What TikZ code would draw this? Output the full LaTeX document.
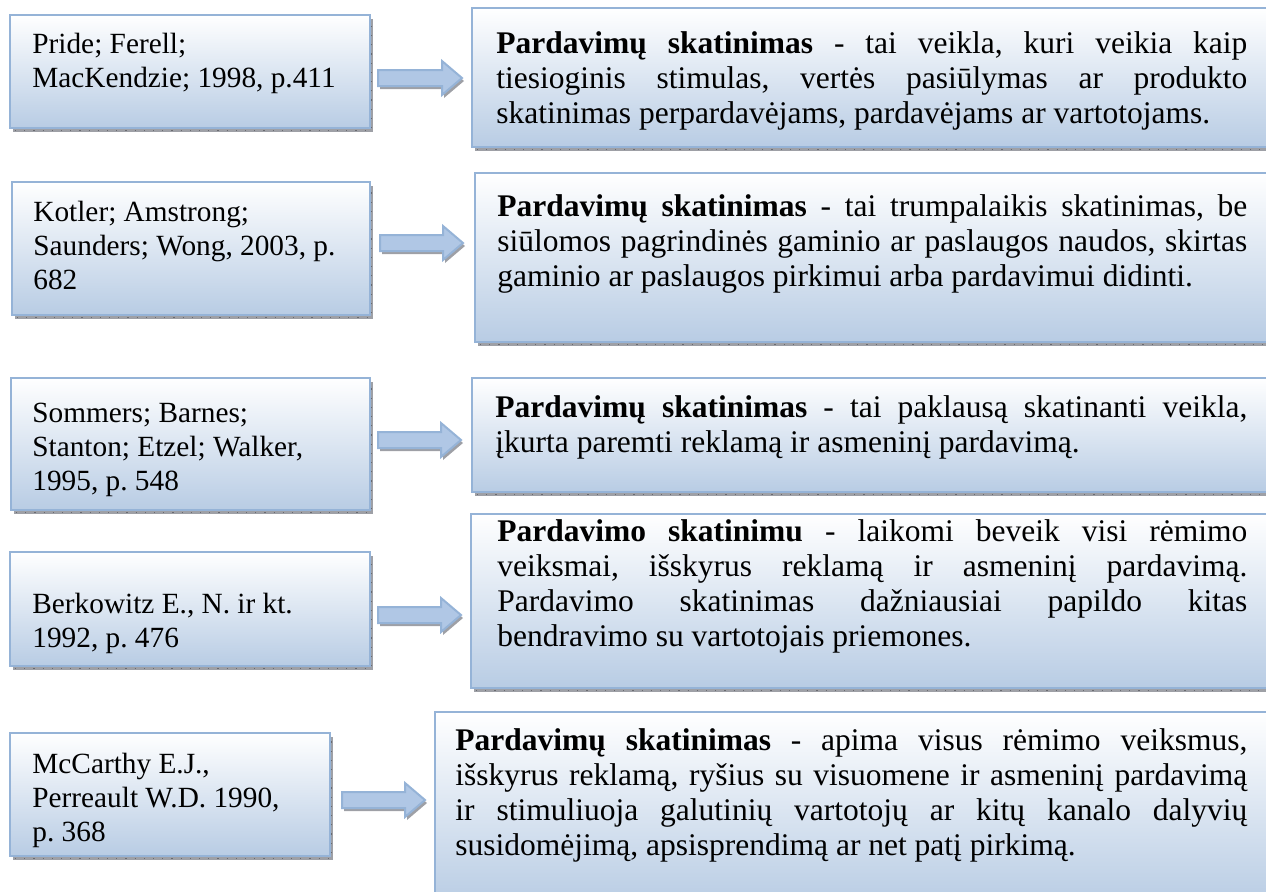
\documentclass[tikz,border=0pt]{standalone}
\usepackage{fontspec}
\setmainfont{Liberation Serif}
\usetikzlibrary{calc,fit}
\frenchspacing

\definecolor{edgeblue}{RGB}{149,179,215}
\definecolor{fillblue}{RGB}{184,204,228}
\definecolor{arrowblue}{RGB}{176,199,229}
\definecolor{shadowgrey}{RGB}{158,160,166}
\definecolor{tickgrey}{RGB}{105,106,112}

\tikzset{
  panel/.style={inner sep=0pt, outer sep=0pt, draw=edgeblue, line width=1.3pt,
    top color=white, bottom color=fillblue},
  shadowband/.style={fill=shadowgrey},
  ticks/.style={draw=tickgrey, line width=0.6pt, dash pattern=on 0.6pt off 4pt},
  arrowbody/.style={draw=edgeblue, line width=1pt, top color=arrowblue,
    middle color=white, bottom color=arrowblue},
  srctext/.style={inner sep=0pt, anchor=base west, font=\fontsize{14.65pt}{17pt}\selectfont},
  deftext/.style={inner sep=0pt, anchor=base west, font=\fontsize{15.75pt}{17.5pt}\selectfont},
}

% justified line and natural line inside a \vtop
\newcommand\jl[1]{\hbox to \hsize{#1}}
\newcommand\nl[1]{\hbox{#1}}

% framed, shaded panel with a hatched drop shadow: name, x0, y0, x1, y1
\newcommand\panelbox[5]{%
  \fill[shadowband] (#2+3,#3+4) rectangle (#4+3,#5+4);
  \draw[ticks] (#2+5,#5+2.5) -- (#4+1.5,#5+2.5) -- (#4+1.5,#3+7);
  \node[panel, fit={(#2,#3) (#4,#5)}] (#1) {};
}

% block arrow from tail coordinate to tip coordinate
\newcommand\blockarrow[2]{%
  \fill[shadowband]
    ($(#1)+(2,-5)$) -- ($(#2)+(-18,-5)$) -- ($(#2)+(-18,-14)$) -- ($(#2)+(2,3)$)
    -- ($(#2)+(-18,20)$) -- ($(#2)+(-18,11)$) -- ($(#1)+(2,11)$) -- cycle;
  \path[arrowbody]
    ($(#1)+(0,-8)$) -- ($(#2)+(-20,-8)$) -- ($(#2)+(-20,-17)$) -- (#2)
    -- ($(#2)+(-20,17)$) -- ($(#2)+(-20,8)$) -- ($(#1)+(0,8)$) -- cycle;
}

\begin{document}
\begin{tikzpicture}[x=0.5pt, y=-0.5pt]
\useasboundingbox (0,0) rectangle (1266,891);
\clip (0,0) rectangle (1266,891);

% source panels (left column)
\panelbox{l1}{10}{15}{370}{128}
\panelbox{l2}{12}{182}{370}{315}
\panelbox{l3}{11}{378}{370}{510}
\panelbox{l4}{10}{552}{370}{666}
\panelbox{l5}{10}{733}{330}{856}

% definition panels (right column)
\panelbox{r1}{472}{8}{1280}{147}
\panelbox{r2}{475}{173}{1280}{342}
\panelbox{r3}{472}{378}{1280}{492}
\panelbox{r4}{471}{514}{1280}{688}
\panelbox{r5}{435}{712}{1280}{905}

% arrow ends
\coordinate (t1) at (378,78);  \coordinate (h1) at (462,78);
\coordinate (t2) at (380,243); \coordinate (h2) at (463,243);
\coordinate (t3) at (378,440); \coordinate (h3) at (461,440);
\coordinate (t4) at (378,615); \coordinate (h4) at (461,615);
\coordinate (t5) at (342,800); \coordinate (h5) at (425,800);
\blockarrow{t1}{h1}
\blockarrow{t2}{h2}
\blockarrow{t3}{h3}
\blockarrow{t4}{h4}
\blockarrow{t5}{h5}

% sources
\node[srctext] (s1) at (32,53) {\vtop{\nl{Pride; Ferell;}\nl{MacKendzie; 1998, p.411}}};
\node[srctext] (s2) at (33,221) {\vtop{\nl{Kotler; Amstrong;}\nl{Saunders; Wong, 2003, p.}\nl{682}}};
\node[srctext] (s3) at (32,422) {\vtop{\nl{Sommers; Barnes;}\nl{Stanton; Etzel; Walker,}\nl{1995, p. 548}}};
\node[srctext] (s4) at (32,613) {\vtop{\nl{Berkowitz E., N. ir kt.}\nl{1992, p. 476}}};
\node[srctext] (s5) at (32,773) {\vtop{\nl{McCarthy E.J.,}\nl{Perreault W.D. 1990,}\nl{p. 368}}};

% definitions
\node[deftext] (d1) at (496,53) {\vtop{\hsize=375.5pt
  \jl{\textbf{Pardavimų skatinimas} - tai veikla, kuri veikia kaip}
  \jl{tiesioginis stimulas, vertės pasiūlymas ar produkto}
  \nl{skatinimas perpardavėjams, pardavėjams ar vartotojams.}}};
\node[deftext] (d2) at (497,216) {\vtop{\hsize=375pt
  \jl{\textbf{Pardavimų skatinimas} - tai trumpalaikis skatinimas, be}
  \jl{siūlomos pagrindinės gaminio ar paslaugos naudos, skirtas}
  \nl{gaminio ar paslaugos pirkimui arba pardavimui didinti.}}};
\node[deftext] (d3) at (495,417) {\vtop{\hsize=376pt
  \jl{\textbf{Pardavimų skatinimas} - tai paklausą skatinanti veikla,}
  \nl{įkurta paremti reklamą ir asmeninį pardavimą.}}};
\node[deftext] (d4) at (497,541) {\vtop{\hsize=375pt
  \jl{\textbf{Pardavimo skatinimu} - laikomi beveik visi rėmimo}
  \jl{veiksmai, išskyrus reklamą ir asmeninį pardavimą.}
  \jl{Pardavimo skatinimas dažniausiai papildo kitas}
  \nl{bendravimo su vartotojais priemones.}}};
\node[deftext] (d5) at (455,750) {\vtop{\hsize=396pt
  \jl{\textbf{Pardavimų skatinimas} - apima visus rėmimo veiksmus,}
  \jl{išskyrus reklamą, ryšius su visuomene ir asmeninį pardavimą}
  \jl{ir stimuliuoja galutinių vartotojų ar kitų kanalo dalyvių}
  \nl{susidomėjimą, apsisprendimą ar net patį pirkimą.}}};
\end{tikzpicture}
\end{document}
